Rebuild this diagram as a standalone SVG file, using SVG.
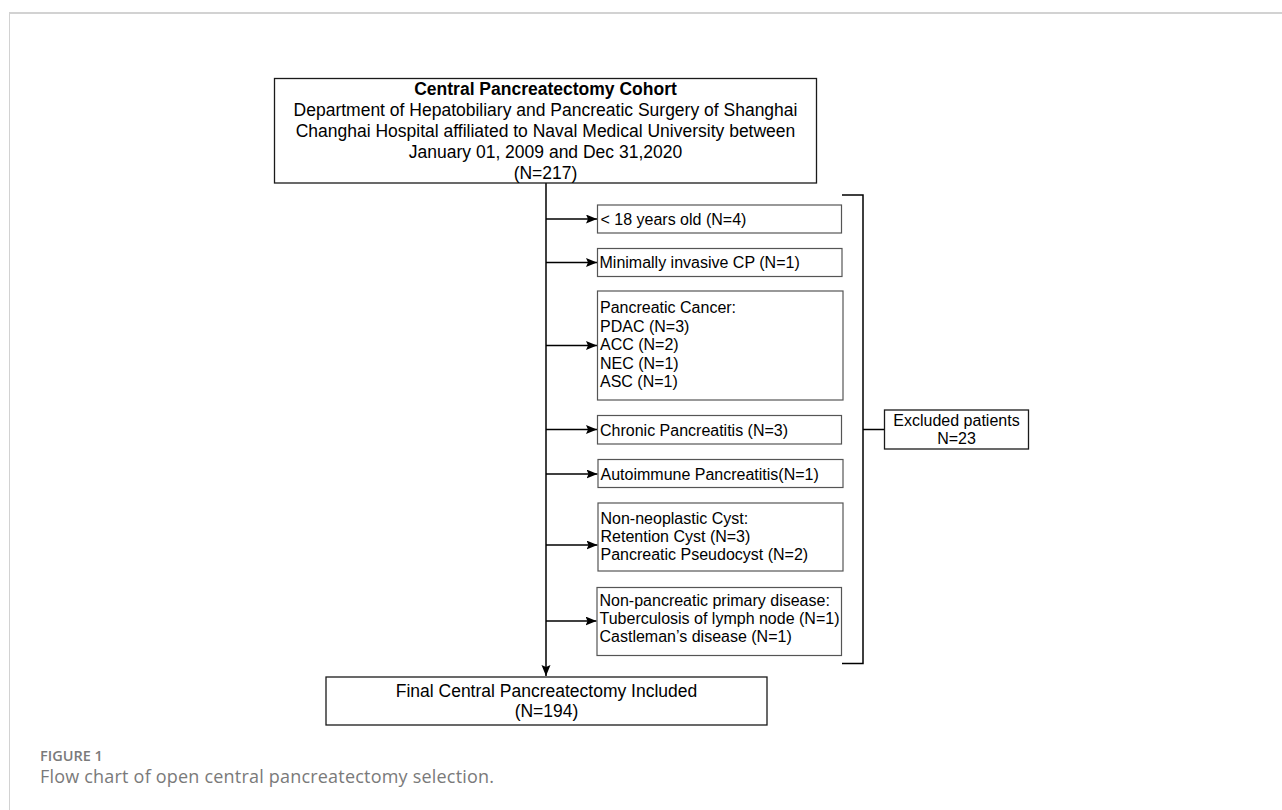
<svg xmlns="http://www.w3.org/2000/svg" width="1282" height="810" viewBox="0 0 1282 810">
<defs>
<style>
.frame{stroke:#d2d2d2;fill:none}
.main{fill:#fff;stroke:#1a1a1a;stroke-width:1.3}
.ex{fill:#fff;stroke:#555;stroke-width:1.2}
.conn{stroke:#000;stroke-width:1.5;fill:none}
.t17{font-family:"Liberation Sans",Arial,sans-serif;font-size:17.5px;fill:#000}
.t16{font-family:"Liberation Sans",Arial,sans-serif;font-size:16px;fill:#000}
.b{font-weight:bold}
.cap1{font-family:"Open Sans","Noto Sans",sans-serif;font-size:14.5px;font-weight:600;fill:#7a7a7a}
.cap2{font-family:"Open Sans","Noto Sans",sans-serif;font-size:18px;letter-spacing:0.2px;fill:#7a7a7a}
</style>
<marker id="arr" markerWidth="12" markerHeight="10" refX="11" refY="4.5" orient="auto" markerUnits="userSpaceOnUse">
<path d="M0,0 L11,4.5 L0,9 L2,4.5 z" fill="#000"/>
</marker>
</defs>
<rect width="1282" height="810" fill="#fff"/>
<g id="frame">
<line class="frame" x1="9" y1="13" x2="1282" y2="13" stroke-width="2"/>
<line class="frame" x1="9.5" y1="13" x2="9.5" y2="810" stroke-width="1"/>
</g>
<g id="connectors">
<line class="conn" x1="546" y1="183" x2="546" y2="676" marker-end="url(#arr)"/>
<line class="conn" x1="546" y1="219" x2="597" y2="219" marker-end="url(#arr)"/>
<line class="conn" x1="546" y1="262.5" x2="597" y2="262.5" marker-end="url(#arr)"/>
<line class="conn" x1="546" y1="345.5" x2="597" y2="345.5" marker-end="url(#arr)"/>
<line class="conn" x1="546" y1="429.5" x2="597" y2="429.5" marker-end="url(#arr)"/>
<line class="conn" x1="546" y1="474" x2="597.5" y2="474" marker-end="url(#arr)"/>
<line class="conn" x1="546" y1="545" x2="597.5" y2="545" marker-end="url(#arr)"/>
<line class="conn" x1="546" y1="621" x2="596.5" y2="621" marker-end="url(#arr)"/>
<polyline class="conn" points="842,195 863,195 863,663.5 842,663.5"/>
<line class="conn" x1="863" y1="429.5" x2="884.5" y2="429.5"/>
</g>
<g id="node-cohort">
<rect class="main" x="274.5" y="78.5" width="542" height="104.5"/>
<text class="t17 b" x="545.5" y="95" text-anchor="middle">Central Pancreatectomy Cohort</text>
<text class="t17" x="545.5" y="116" text-anchor="middle">Department of Hepatobiliary and Pancreatic Surgery of Shanghai</text>
<text class="t17" x="545.5" y="137" text-anchor="middle">Changhai Hospital affiliated to Naval Medical University between</text>
<text class="t17" x="545.5" y="158" text-anchor="middle">January 01, 2009 and Dec 31,2020</text>
<text class="t17" x="545.5" y="179" text-anchor="middle">(N=217)</text>
</g>
<g id="node-age">
<rect class="ex" x="597.5" y="205" width="244" height="28"/>
<text class="t16" x="600.5" y="224.5">&lt; 18 years old (N=4)</text>
</g>
<g id="node-mi">
<rect class="ex" x="597.5" y="248.5" width="244.5" height="28"/>
<text class="t16" x="599.5" y="268">Minimally invasive CP (N=1)</text>
</g>
<g id="node-cancer">
<rect class="ex" x="597.5" y="291" width="245.5" height="109"/>
<text class="t16" x="600" y="313">Pancreatic Cancer:</text>
<text class="t16" x="600" y="331.5">PDAC (N=3)</text>
<text class="t16" x="600" y="350">ACC (N=2)</text>
<text class="t16" x="600" y="368.5">NEC (N=1)</text>
<text class="t16" x="600" y="387">ASC (N=1)</text>
</g>
<g id="node-chronic">
<rect class="ex" x="597.5" y="415.5" width="244" height="28.5"/>
<text class="t16" x="600" y="435.5">Chronic Pancreatitis (N=3)</text>
</g>
<g id="node-autoimmune">
<rect class="ex" x="598" y="459.5" width="245" height="28"/>
<text class="t16" x="600.5" y="479.5">Autoimmune Pancreatitis(N=1)</text>
</g>
<g id="node-cyst">
<rect class="ex" x="598" y="503" width="245" height="68"/>
<text class="t16" x="600.5" y="524">Non-neoplastic Cyst:</text>
<text class="t16" x="600.5" y="542">Retention Cyst (N=3)</text>
<text class="t16" x="600.5" y="560">Pancreatic Pseudocyst (N=2)</text>
</g>
<g id="node-nonpanc">
<rect class="ex" x="597" y="587.5" width="244.5" height="68"/>
<text class="t16" x="599.5" y="606">Non-pancreatic primary disease:</text>
<text class="t16" x="599.5" y="624">Tuberculosis of lymph node (N=1)</text>
<text class="t16" x="599.5" y="642">Castleman’s disease (N=1)</text>
</g>
<g id="node-excluded">
<rect class="main" x="884.5" y="410" width="144" height="39"/>
<text class="t16" x="956.5" y="426" text-anchor="middle">Excluded patients</text>
<text class="t16" x="956.5" y="443.5" text-anchor="middle">N=23</text>
</g>
<g id="node-final">
<rect class="main" x="326" y="677" width="441" height="48"/>
<text class="t17" x="546.5" y="697" text-anchor="middle">Final Central Pancreatectomy Included</text>
<text class="t17" x="546.5" y="717" text-anchor="middle">(N=194)</text>
</g>
<g id="caption">
<text class="cap1" x="40" y="761">FIGURE 1</text>
<text class="cap2" x="40" y="783">Flow chart of open central pancreatectomy selection.</text>
</g>
</svg>
